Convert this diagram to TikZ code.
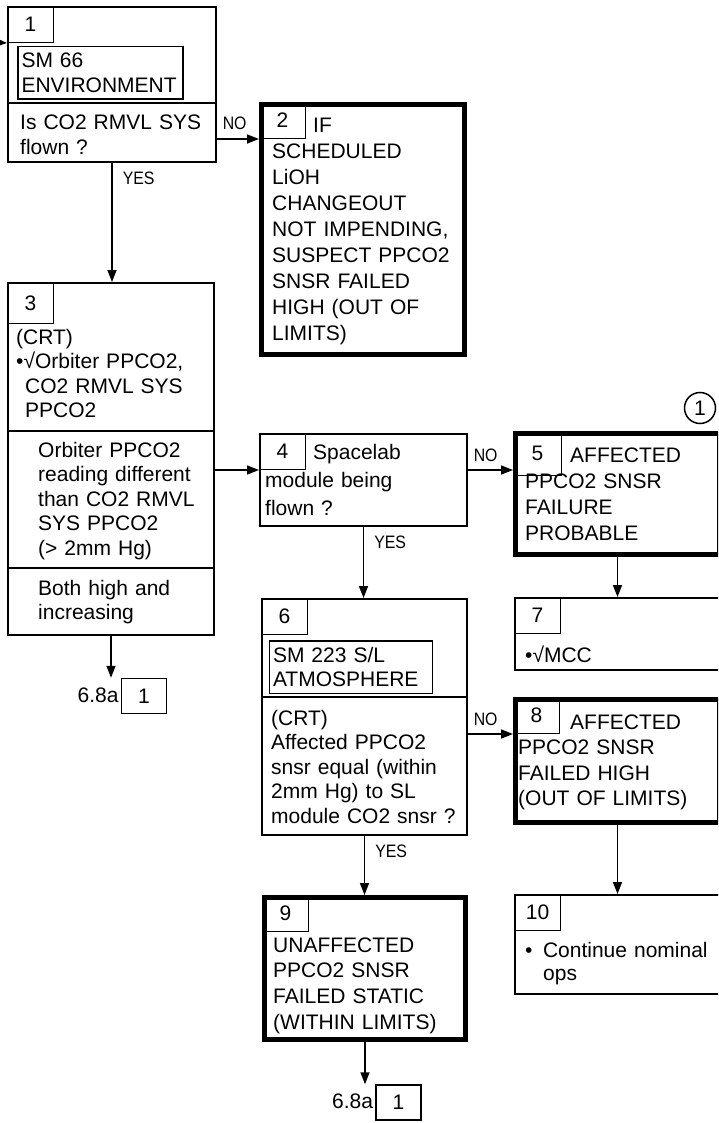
\documentclass[tikz,border=0pt]{standalone}
\usepackage{fontspec}
\setmainfont{Liberation Sans}
\newfontfamily\lblfont[FakeStretch=0.88]{Liberation Sans}
\usetikzlibrary{arrows.meta}

\begin{document}
\begin{tikzpicture}[x=1pt, y=-1pt, font=\fontsize{21}{24.5}\selectfont]

  \tikzset{
    box/.style={draw, line width=2pt, inner sep=0},
    bigbox/.style={draw, line width=5pt, inner sep=0},
    tab/.style={draw, line width=1pt, anchor=north west, minimum width=46, minimum height=36, inner sep=0},
    inbox/.style={draw, line width=1.5pt, inner xsep=3.5pt, inner ysep=0, align=left, minimum height=52.5},
    offbox/.style={draw, line width=1.5pt, minimum width=45, minimum height=35, inner sep=0},
    txt/.style={anchor=base west, inner sep=0, align=left, text width=200pt},
    arr/.style={line width=1.5pt, -{Triangle[length=12pt,width=9pt]}},
    lbl/.style={font=\lblfont\fontsize{18}{20}\selectfont, inner sep=0, anchor=base west, pos=0},
    nolbl/.style={lbl, xshift=5pt, yshift=9pt},
    yeslbl/.style={lbl, xshift=10pt, yshift=-21.5pt}
  }

  \useasboundingbox (0,0) rectangle (718,1123);
  \clip (0,0) rectangle (718,1123);

  % Boxes
  \node[box, minimum width=208, minimum height=155] (b1) at (112,84.5) {};
  \node[bigbox, minimum width=203, minimum height=250] (b2) at (363,229.5) {};
  \node[box, minimum width=206, minimum height=352] (b3) at (111,459) {};
  \node[box, minimum width=207, minimum height=92] (b4) at (363.5,480) {};
  \node[bigbox, minimum width=204, minimum height=121] (b5) at (617.5,494) {};
  \node[box, minimum width=205, minimum height=236] (b6) at (364.5,717) {};
  \node[box, minimum width=206, minimum height=72] (b7) at (618,634) {};
  \node[bigbox, minimum width=204, minimum height=123] (b8) at (617.5,761) {};
  \node[bigbox, minimum width=201, minimum height=142] (b9) at (365,968.5) {};
  \node[box, minimum width=206, minimum height=99] (b10) at (618,944.5) {};

  \foreach \n in {1,2,4,6,7,8,9,10}
    \node[tab] (t\n) at (b\n.north west) {\n};
  \node[tab, minimum height=41] (t3) at (b3.north west) {3};
  \node[tab, minimum width=48, minimum height=44] (t5) at (b5.north west) {5};

  \foreach \b/\y in {b1/103, b3/431, b3/568, b6/697}
    \draw[line width=2pt] (\b.west |- 0,\y) -- (\b.east |- 0,\y);

  \node[inbox, text width=158pt] (e1) at (100.5,73) {SM 66\\ENVIRONMENT};
  \node[inbox, text width=156pt] (e6) at (351,667) {SM 223 S/L\\ATMOSPHERE};

  % Texts
  \node[txt] (x1) at (20,130) {Is CO2 RMVL SYS\\flown ?};
  \node[txt, font=\fontsize{21}{26}\selectfont] (x2) at (272,133)
    {\hspace*{41pt}IF\\SCHEDULED\\LiOH\\CHANGEOUT\\NOT IMPENDING,\\SUSPECT PPCO2\\SNSR FAILED\\HIGH (OUT OF\\LIMITS)};
  \node[txt] (x3a) at (16,344) {(CRT)\\•√Orbiter PPCO2,\\\hspace*{9pt}CO2 RMVL SYS\\\hspace*{9pt}PPCO2};
  \node[txt] (x3b) at (38,457) {Orbiter PPCO2\\reading different\\than CO2 RMVL\\SYS PPCO2\\(> 2mm Hg)};
  \node[txt] (x3c) at (38,595) {Both high and\\increasing};
  \node[txt, font=\fontsize{21}{28}\selectfont] (x4) at (265,459) {\hspace*{48pt}Spacelab\\module being\\flown ?};
  \node[txt, font=\fontsize{21}{26}\selectfont] (x5) at (525,462) {\hspace*{45pt}AFFECTED\\PPCO2 SNSR\\FAILURE\\PROBABLE};
  \node[txt] (x6) at (271,725) {(CRT)\\Affected PPCO2\\snsr equal (within\\2mm Hg) to SL\\module CO2 snsr ?};
  \node[txt] (x7) at (525,662) {•√MCC};
  \node[txt, font=\fontsize{21}{25.5}\selectfont] (x8) at (518,729) {\hspace*{52pt}AFFECTED\\PPCO2 SNSR\\FAILED HIGH\\(OUT OF LIMITS)};
  \node[txt, font=\fontsize{21}{25.7}\selectfont] (x9) at (273,952) {UNAFFECTED\\PPCO2 SNSR\\FAILED STATIC\\(WITHIN LIMITS)};
  \node[txt, font=\fontsize{21}{23}\selectfont] (x10) at (525,957) {•\hspace*{10.5pt}Continue nominal\\\hspace*{18pt}ops};

  % Off-page connectors
  \node[offbox] (c1) at (144,696) {1};
  \node[anchor=base east, inner sep=0] (o1) at ([xshift=-2pt]c1.west |- 0,702) {6.8a};
  \node[offbox] (c2) at (398.5,1102.5) {1};
  \node[anchor=base east, inner sep=0] (o2) at ([xshift=-2pt]c2.west |- 0,1108) {6.8a};
  \node[draw, circle, line width=1.5pt, minimum size=31, inner sep=0] (k1) at (700,408) {1};

  % Arrows
  \coordinate (in1) at (-10,42);
  \draw[arr] (in1) -- (t1.south west);
  \draw[arr] (b1.east |- t2.south west) -- node[nolbl] {NO} (t2.south west);
  \draw[arr] (b1.south) -- node[yeslbl] {YES} (b1.south |- b3.north);
  \draw[arr] (b3.east |- t4.south west) -- (t4.south west);
  \draw[arr] (b4.east |- t4.south west) -- node[nolbl] {NO} (b5.west |- t4.south west);
  \draw[arr] (b4.south) -- node[yeslbl] {YES} (b4.south |- b6.north);
  \draw[arr] (b5.south) -- (b5.south |- b7.north);
  \draw[arr] (b6.east |- t8.south west) -- node[nolbl] {NO} (t8.south west);
  \draw[arr] (b6.south) -- node[yeslbl] {YES} (b6.south |- b9.north);
  \draw[arr] (b8.south) -- (b8.south |- b10.north);
  \draw[arr] (b3.south) -- (b3.south |- c1.north);
  \draw[arr] (b9.south) -- (b9.south |- c2.north);

\end{tikzpicture}
\end{document}
